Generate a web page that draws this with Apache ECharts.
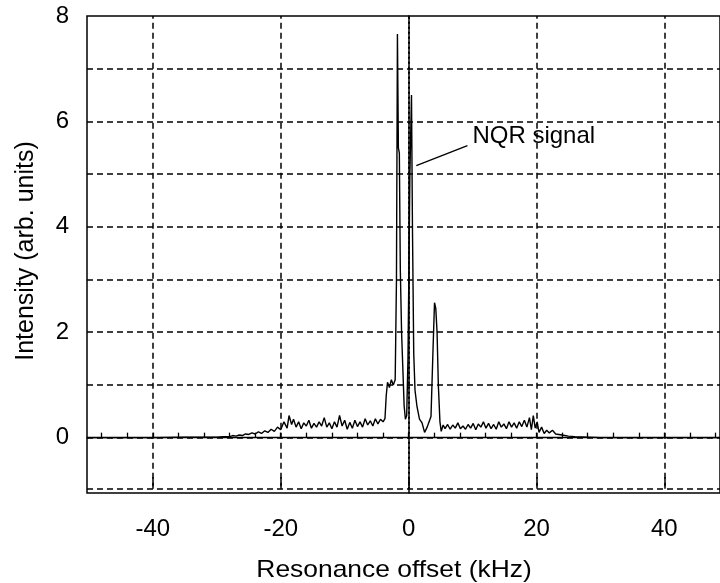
<!DOCTYPE html>
<html><head><meta charset="utf-8">
<script src="https://cdn.jsdelivr.net/npm/echarts@6/dist/echarts.min.js"></script>
<style>html,body{margin:0;padding:0;background:#fff}#c{width:720px;height:583px}</style>
</head><body><div id="c"></div>
<script>
// Resonance offset (kHz)
const offsets = [-50.3,-45,-40,-35,-31,-30,-29,-28,-27.5,-27,-26.5,-26,-25.5,-25,-24.5,-24,-23.5,-23,-22.5,-22,-21.5,-21,-20.5,-20,-19.5,-19,-18.7,-18.3,-18,-17.6,-17.2,-16.8,-16.4,-16,-15.6,-15.2,-14.8,-14.4,-14,-13.6,-13.2,-12.8,-12.4,-12,-11.6,-11.2,-10.8,-10.4,-10,-9.6,-9.2,-8.8,-8.4,-8,-7.6,-7.2,-6.8,-6.4,-6,-5.6,-5.2,-4.8,-4.4,-4,-3.7,-3.5,-3.3,-3.0,-2.7,-2.4,-2.1,-1.9,-1.75,-1.6,-1.45,-1.3,-1.1,-0.9,-0.7,-0.5,-0.3,-0.1,0.2,0.45,0.6,0.8,1.0,1.3,1.7,2.1,2.5,2.9,3.2,3.5,3.8,4.05,4.25,4.45,4.65,4.9,5.1,5.4,5.7,6.1,6.5,6.9,7.3,7.7,8.1,8.5,8.9,9.3,9.7,10.1,10.5,10.9,11.3,11.7,12.1,12.5,12.9,13.3,13.7,14.1,14.5,14.9,15.3,15.7,16.1,16.5,16.9,17.3,17.7,18.1,18.5,18.9,19.2,19.5,19.8,20.1,20.4,20.8,21.2,21.6,22.0,22.5,23,23.5,24,25,26,28,30,35,40,45,48.7];
// Intensity (arb. units)
const intensity = [0,0,0,0.01,0.01,0.01,0.02,0.02,0.04,0.03,0.05,0.04,0.07,0.06,0.09,0.07,0.11,0.08,0.13,0.1,0.16,0.12,0.2,0.15,0.3,0.18,0.42,0.25,0.35,0.2,0.3,0.17,0.28,0.22,0.33,0.18,0.27,0.2,0.3,0.22,0.38,0.2,0.28,0.17,0.3,0.2,0.42,0.22,0.33,0.16,0.29,0.18,0.33,0.21,0.3,0.2,0.36,0.24,0.32,0.22,0.36,0.26,0.35,0.3,0.36,0.8,1.05,0.95,1.1,1.0,1.1,3.0,7.66,5.5,5.4,3.2,2.0,1.3,0.6,0.35,0.42,1.5,5.0,6.5,4.0,1.6,0.9,0.6,0.35,0.28,0.1,0.2,0.3,0.4,1.6,2.56,2.45,2.0,1.0,0.3,0.12,0.24,0.17,0.25,0.16,0.24,0.18,0.28,0.17,0.22,0.16,0.25,0.18,0.27,0.15,0.26,0.2,0.3,0.18,0.27,0.17,0.25,0.16,0.3,0.2,0.26,0.17,0.3,0.2,0.28,0.18,0.3,0.21,0.33,0.2,0.38,0.15,0.42,0.18,0.3,0.1,0.2,0.08,0.14,0.09,0.14,0.07,0.06,0.05,0.03,0.02,0.01,0,0,0,0,0];
const xLabelValues = [-40,-20,0,20,40];
const xMinorTicks = [-48,-44,-40,-36,-32,-28,-24,-20,-16,-12,-8,-4,0,4,8,12,16,20,24,28,32,36,40,44,48];
const yLabelValues = [0,2,4,6,8];
const hGridValues = [0,1,2,3,4,5,6,7];
const vGridValues = [-40,-20,20,40];
const annotationText = 'NQR signal';
const annotationFrom = [1.2, 5.16];
const annotationTo = [9.2, 5.54];
const xTitle = 'Resonance offset (kHz)';
const yTitle = 'Intensity (arb. units)';

const FONT = "'Liberation Sans', Arial, sans-serif";
const chart = echarts.init(document.getElementById('c'), null, {renderer: 'canvas'});
const data = offsets.map((x, i) => [x, intensity[i]]);

const dash = {color: '#000', width: 1.5, type: [6, 4]};
const markData = [];
hGridValues.forEach(v => markData.push({yAxis: v, lineStyle: dash}));
markData.push({yAxis: -0.97, lineStyle: dash});
vGridValues.forEach(v => markData.push([{coord: [v, -0.97], lineStyle: dash}, {coord: [v, 8]}]));
markData.push([{coord: [0, -0.97], lineStyle: {color: '#000', width: 2, type: [2, 3]}}, {coord: [0, 8]}]);
// leader line of annotation
markData.push([{coord: annotationFrom, lineStyle: {color: '#000', width: 1.3, type: 'solid'}}, {coord: annotationTo}]);

chart.setOption({
  animation: false,
  backgroundColor: '#fff',
  grid: {left: 87, right: -2, top: 16, bottom: 90, show: true, borderColor: '#000', borderWidth: 1.5},
  xAxis: [{
    type: 'value', min: -50.3, max: 48.7, position: 'bottom', offset: -7,
    axisLine: {show: true, lineStyle: {color: '#000', width: 1.3}},
    axisTick: {show: true, inside: true, length: 5, customValues: xMinorTicks, lineStyle: {color: '#000', width: 1.3}},
    axisLabel: {customValues: xLabelValues, color: '#000', fontSize: 24, fontFamily: FONT, margin: 31},
    splitLine: {show: false}
  }, {
    type: 'value', min: -50.3, max: 48.7, position: 'bottom', offset: -7,
    axisLine: {show: false},
    axisTick: {show: true, inside: true, length: 9, customValues: xLabelValues, lineStyle: {color: '#000', width: 1.5}},
    axisLabel: {show: false},
    splitLine: {show: false}
  }],
  yAxis: {
    type: 'value', min: -1.05, max: 8,
    axisLine: {show: true, lineStyle: {color: '#000', width: 1.5}},
    axisTick: {show: false},
    axisLabel: {customValues: yLabelValues, color: '#000', fontSize: 24, fontFamily: FONT, margin: 18},
    splitLine: {show: false}
  },
  series: [{
    type: 'line', data: data, symbol: 'none', xAxisIndex: 0,
    lineStyle: {color: '#000', width: 1.4},
    markLine: {silent: true, symbol: ['none', 'none'], label: {show: false}, data: markData}
  }]
});

const tip = chart.convertToPixel({gridIndex: 0}, annotationTo);
chart.setOption({
  graphic: [
    {type: 'text', x: tip[0] + 5, y: tip[1] - 9, style: {text: annotationText, font: '24px ' + FONT, fill: '#000', textAlign: 'left', textVerticalAlign: 'middle'}},
    {type: 'text', x: 394, y: 570, scaleX: 1.1, style: {text: xTitle, font: '24px ' + FONT, fill: '#000', textAlign: 'center', textVerticalAlign: 'middle'}},
    {type: 'text', x: 26, y: 251, rotation: Math.PI / 2, style: {text: yTitle, font: '25px ' + FONT, fill: '#000', textAlign: 'center', textVerticalAlign: 'middle'}}
  ]
});
</script></body></html>
